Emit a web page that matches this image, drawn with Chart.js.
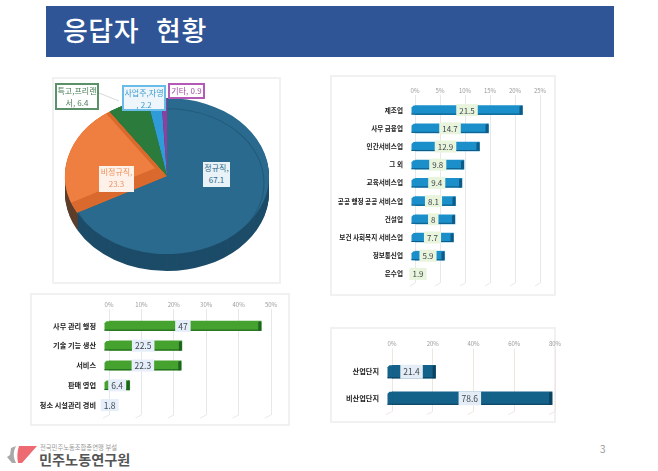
<!DOCTYPE html>
<html lang="ko">
<head>
<meta charset="utf-8">
<title>응답자 현황</title>
<script src="https://cdn.jsdelivr.net/npm/chart.js@4"></script>
<style>
  html, body { margin: 0; padding: 0; background: #fff; }
  body { position: relative; width: 658px; height: 471px; overflow: hidden; font-family: "Noto Sans CJK KR", "Noto Sans", sans-serif; }
  .abs { position: absolute; }
  canvas { position: absolute; }
  .panel { position: absolute; border: 2px solid #f1f1f1; box-sizing: border-box; background: #fff; }
  #title { left: 46px; top: 6px; width: 568px; height: 51px; background: #2f5597; color: #fff; font-size: 27px; font-weight: 500; line-height: 47px; padding-left: 17px; box-sizing: border-box; word-spacing: 9px; letter-spacing: 0.5px; }
  .pie-label { position: absolute; box-sizing: border-box; font-size: 8px; line-height: 12px; text-align: center; word-break: break-all; padding-top: 0; }
  #sub { left: 40px; top: 443px; font-size: 6.3px; color: #999; white-space: nowrap; }
  #org { left: 39px; top: 449px; font-size: 14.2px; font-weight: 700; color: #555; white-space: nowrap; line-height: 20px; }
  #page { left: 600px; top: 441px; font-size: 10px; color: #999; }
</style>
</head>
<body>
<div id="title" class="abs">응답자 현황</div>

<div class="panel" style="left:52px;top:77px;width:229px;height:207px"></div>
<div class="panel" style="left:330px;top:75px;width:226px;height:221px"></div>
<div class="panel" style="left:30px;top:293px;width:260px;height:133px"></div>
<div class="panel" style="left:330px;top:327px;width:226px;height:96px"></div>

<canvas id="pie" width="228" height="206" style="left:53px;top:78px"></canvas>
<canvas id="industry" width="235" height="220" style="left:330px;top:76px"></canvas>
<canvas id="job" width="265" height="133" style="left:30px;top:293px"></canvas>
<canvas id="site" width="240" height="95" style="left:330px;top:327px"></canvas>

<svg class="abs" style="left:5px;top:445px" width="34" height="22" viewBox="0 0 34 22">
  <path d="M6 3 L11 1 C8 7 8 12 11 18 L7 18 L2 12 L5 10 Z" fill="#a9a9a9"/>
  <path d="M14 1 L32 1 L17 18 L13 18 C12 12 12 7 14 1 Z" fill="#ee6a72"/>
</svg>
<div id="sub" class="abs">전국민주노동조합총연맹 부설</div>
<div id="org" class="abs">민주노동연구원</div>
<div id="page" class="abs">3</div>

<script>
// employment type (pie)
const pieCategories = ['정규직', '비정규직', '특고,프리랜서', '사업주,자영', '기타'];
const pieValues = [67.1, 23.3, 6.4, 2.2, 0.9];
const pieColors = ['#2a6a8e', '#ee7f40', '#2b7c3c', '#2f9bd8', '#8e3f9f'];
const pieSideColors = ['#1c4c68', '#5e3f2c', '#1b5528', '#1d6a96', '#5e2a6a'];

// industry
const industryLabels = ['제조업', '사무 금융업', '인간서비스업', '그 외', '교육서비스업', '공공 행정 공공 서비스업', '건설업', '보건 사회복지 서비스업', '정보통신업', '운수업'];
const industryValues = [21.5, 14.7, 12.9, 9.8, 9.4, 8.1, 8, 7.7, 5.9, 1.9];
const industryTicks = [0, 5, 10, 15, 20, 25];

// job type
const jobLabels = ['사무 관리 행정', '기술 기능 생산', '서비스', '판매 영업', '청소 시설관리 경비'];
const jobValues = [47, 22.5, 22.3, 6.4, 1.8];
const jobTicks = [0, 10, 20, 30, 40, 50];

// workplace location
const siteLabels = ['산업단지', '비산업단지'];
const siteValues = [21.4, 78.6];
const siteTicks = [0, 20, 40, 60, 80];

Chart.defaults.font.family = '"Noto Sans CJK KR", "Noto Sans", sans-serif';
Chart.defaults.animation = false;

// Squash the pie into an ellipse + draw the side wall under it
const PIE_SQUASH = 0.765;
const PIE_CENTER_Y = 98;
const PIE_DEPTH = 17;

function pieTransform(ctx, chart, offsetX, offsetY){
  const arc = chart.getDatasetMeta(0).data[0];
  ctx.translate(arc.x + offsetX, PIE_CENTER_Y + offsetY);
  ctx.scale(1, PIE_SQUASH);
  ctx.translate(-arc.x, -arc.y);
}

function sectorPath(ctx, arc, radius = arc.outerRadius){
  ctx.beginPath();
  ctx.moveTo(arc.x, arc.y);
  ctx.arc(arc.x, arc.y, radius, arc.startAngle, arc.endAngle);
  ctx.closePath();
}

const piePlugin = {
  id: 'pie3d',
  beforeDatasetsDraw(chart){
    const ctx = chart.ctx;
    const arcs = chart.getDatasetMeta(0).data;
    // side wall
    for(let d = PIE_DEPTH; d > 0; d--){
      arcs.forEach((arc, i) => {
        ctx.save();
        pieTransform(ctx, chart, 0, d);
        sectorPath(ctx, arc);
        ctx.fillStyle = pieSideColors[i];
        ctx.fill();
        ctx.restore();
      });
    }
    ctx.save();
    pieTransform(ctx, chart, 0, 0);
  },
  afterDatasetsDraw(chart){
    const ctx = chart.ctx;
    const arcs = chart.getDatasetMeta(0).data;
    ctx.restore();

    // inner rim on the big slice
    ctx.save();
    pieTransform(ctx, chart, 0, 0);
    sectorPath(ctx, arcs[0]);
    ctx.clip();
    ctx.beginPath();
    ctx.arc(arcs[0].x, arcs[0].y + 9, arcs[0].outerRadius - 5, 0, Math.PI * 2);
    ctx.strokeStyle = 'rgba(10,40,60,0.22)';
    ctx.lineWidth = 1.2;
    ctx.stroke();
    ctx.restore();

    // orange and green slices show their cut walls
    [[1, '#d9692c', '#ee7f40', -12, -10], [2, '#226a31', '#2b7c3c', 4, 6]].forEach(([i, wall, top, dx, dy]) => {
      ctx.save();
      pieTransform(ctx, chart, 0, 0);
      sectorPath(ctx, arcs[i]);
      ctx.clip();
      ctx.fillStyle = wall;
      ctx.fill();
      ctx.translate(dx, dy);
      sectorPath(ctx, arcs[i], arcs[i].outerRadius + 20);
      ctx.fillStyle = top;
      ctx.fill();
      ctx.restore();
    });

    // leader line of the freelancer label
    ctx.beginPath();
    ctx.moveTo(46, 15);
    ctx.lineTo(66, 23);
    ctx.strokeStyle = '#d9d9d9';
    ctx.lineWidth = 1;
    ctx.stroke();
  }
};

new Chart(document.getElementById('pie'), {
  type: 'pie',
  data: {
    labels: pieCategories,
    datasets: [{ data: pieValues, backgroundColor: pieColors, borderWidth: 0, radius: 102, clip: false }]
  },
  options: {
    responsive: false,
    events: [],
    plugins: { legend: { display: false }, tooltip: { enabled: false } }
  },
  plugins: [piePlugin]
});

// Pie label boxes, text comes from the arrays above
const pieLabelBoxes = [
  { left: 203, top: 162, width: 27, height: 25, color: '#2a6a8e', background: '#e9f2f7', border: 'none' },
  { left: 99, top: 166, width: 35, height: 26, color: '#ee915c', background: '#fdf1e9', border: 'none' },
  { left: 55, top: 83, width: 44, height: 27, color: '#4b7f58', background: '#fff', border: '2px solid #5b9169' },
  { left: 122, top: 85, width: 44, height: 26, color: '#3a9ad0', background: '#eef6fb', border: '2px solid #69bbe8' },
  { left: 168, top: 83, width: 37, height: 16, color: '#a54aa8', background: '#fff', border: '2px solid #b45ab6' }
];

pieLabelBoxes.forEach((box, i) => {
  const label = document.createElement('div');
  label.className = 'pie-label';
  label.innerHTML = pieCategories[i] + (i === 3 ? '<br>' : '') + ', ' + pieValues[i];
  label.style.cssText = `left:${box.left}px;top:${box.top}px;width:${box.width}px;height:${box.height}px;color:${box.color};background:${box.background};border:${box.border}`;
  document.body.appendChild(label);
});

// Fake 3D for the bars: left lip, dark end cap, floor feet on the grid lines, value label in the middle
const barPlugin = {
  id: 'bar3d',
  beforeDatasetsDraw(chart, args, opts){
    const ctx = chart.ctx;
    const xScale = chart.scales.x;
    const bottom = chart.chartArea.bottom;

    ctx.strokeStyle = opts.gridColor;
    ctx.lineWidth = 1;
    xScale.ticks.forEach((tick, i) => {
      const x = xScale.getPixelForTick(i);
      ctx.beginPath();
      ctx.moveTo(x, bottom);
      ctx.lineTo(x - opts.lip - 1, bottom + 3);
      ctx.stroke();
    });

    chart.getDatasetMeta(0).data.forEach(bar => {
      const top = bar.y - bar.height / 2;
      ctx.fillStyle = opts.color;
      ctx.beginPath();
      ctx.moveTo(bar.base - opts.lip, top + bar.height);
      ctx.lineTo(bar.base - opts.lip, top + 2);
      ctx.lineTo(bar.base - opts.lip + 2, top);
      ctx.lineTo(bar.base + 1, top);
      ctx.lineTo(bar.base + 1, top + bar.height);
      ctx.closePath();
      ctx.fill();
    });
  },
  afterDatasetsDraw(chart, args, opts){
    const ctx = chart.ctx;
    chart.getDatasetMeta(0).data.forEach((bar, i) => {
      const top = bar.y - bar.height / 2;
      // shade + cap
      ctx.fillStyle = opts.side;
      ctx.fillRect(bar.base - opts.lip, top + bar.height - 1, bar.x - bar.base + opts.lip, 1);
      ctx.beginPath();
      ctx.moveTo(bar.x - 3, top + 1);
      ctx.lineTo(bar.x - 1, top);
      ctx.lineTo(bar.x, top + 1);
      ctx.lineTo(bar.x, top + bar.height - 1);
      ctx.lineTo(bar.x - 1, top + bar.height);
      ctx.lineTo(bar.x - 3, top + bar.height);
      ctx.closePath();
      ctx.fill();

      const text = String(chart.data.datasets[0].data[i]);
      const center = (bar.base - opts.lip + bar.x) / 2;
      ctx.font = opts.labelSize + 'px ' + Chart.defaults.font.family;
      const w = ctx.measureText(text).width + 6;
      ctx.fillStyle = opts.labelBackground;
      ctx.fillRect(center - w / 2, bar.y - opts.labelHeight / 2, w, opts.labelHeight);
      ctx.fillStyle = '#40484f';
      ctx.textAlign = 'center';
      ctx.textBaseline = 'middle';
      ctx.fillText(text, center, bar.y + 0.5);
    });
  }
};

function makeBarChart(id, labels, values, ticks, look){
  new Chart(document.getElementById(id), {
    type: 'bar',
    data: {
      labels: labels,
      datasets: [{ data: values, backgroundColor: look.color, borderWidth: 0, barThickness: look.barHeight }]
    },
    options: {
      indexAxis: 'y',
      responsive: false,
      events: [],
      layout: { padding: { right: look.right, bottom: look.bottom } },
      plugins: {
        legend: { display: false },
        tooltip: { enabled: false },
        bar3d: look
      },
      scales: {
        x: {
          position: 'top',
          min: ticks[0],
          max: ticks[ticks.length - 1],
          afterFit: scale => { scale.height = look.top; },
          afterBuildTicks: scale => { scale.ticks = ticks.map(v => ({ value: v })); },
          border: { display: false },
          grid: { color: look.gridColor, tickLength: look.tickLength, lineWidth: 1 },
          ticks: {
            padding: 1,
            color: '#9a9a9a',
            maxRotation: 0,
            font: { size: 6 },
            callback: v => v + '%'
          }
        },
        y: {
          // tick padding leaks into the scale padding, which would eat the bottom of the chart area
          afterFit: scale => {
            scale.width = look.left;
            scale.paddingTop = 0;
            scale.paddingBottom = 0;
          },
          border: { display: false },
          grid: { display: false, drawTicks: false },
          ticks: {
            padding: look.labelGap,
            autoSkip: false,
            color: '#222',
            font: { size: look.catSize, weight: '700' }
          }
        }
      }
    },
    plugins: [barPlugin]
  });
}

makeBarChart('industry', industryLabels, industryValues, industryTicks, {
  color: '#1a8fca', side: '#0f5b85', gridColor: '#e8e8e8', barHeight: 9, lip: 4,
  left: 85, top: 25, right: 25, bottom: 13, tickLength: 6, labelGap: 12, catSize: 6.6,
  labelSize: 8, labelHeight: 12, labelBackground: '#e8f4dc'
});
makeBarChart('job', jobLabels, jobValues, jobTicks, {
  color: '#46a22e', side: '#1d6420', gridColor: '#e6e8ec', barHeight: 9.5, lip: 5,
  left: 79, top: 23, right: 24, bottom: 11, tickLength: 7, labelGap: 13, catSize: 7.2,
  labelSize: 8.5, labelHeight: 12, labelBackground: '#e5eef9'
});
makeBarChart('site', siteLabels, siteValues, siteTicks, {
  color: '#14618a', side: '#0c4260', gridColor: '#f0e6e0', barHeight: 13, lip: 5,
  left: 62, top: 31.5, right: 15, bottom: 10.5, tickLength: 10, labelGap: 13, catSize: 7.2,
  labelSize: 8.5, labelHeight: 14, labelBackground: '#e4ecf6'
});
</script>
</body>
</html>
